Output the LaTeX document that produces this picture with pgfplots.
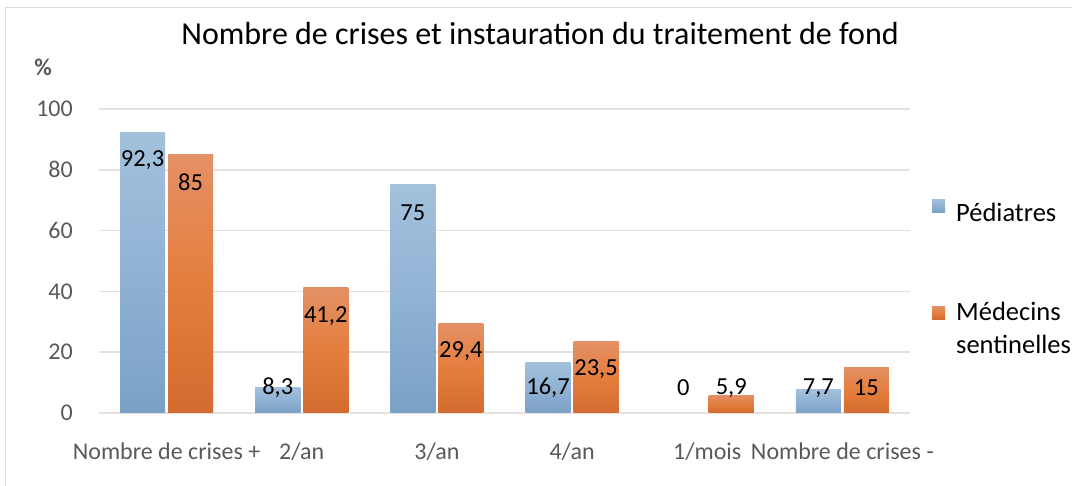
\documentclass[border=0pt]{standalone}
\usepackage{fontspec}
\setmainfont{Carlito}
\usepackage{pgfplots}
\pgfplotsset{compat=1.18}
\definecolor{bluetop}{HTML}{A3C1DC}
\definecolor{bluemid}{HTML}{90B2D4}
\definecolor{bluebot}{HTML}{7AA1C5}
\definecolor{orgtop}{HTML}{E49066}
\definecolor{orgmid}{HTML}{E47E3D}
\definecolor{orgbot}{HTML}{D46B2F}
\definecolor{gridc}{HTML}{E6E0DE}
\definecolor{tickc}{HTML}{595959}
\definecolor{framec}{HTML}{D9D9D9}
\pgfplotsset{
  bluebar/.style={draw=none, top color=bluetop, bottom color=bluebot, middle color=bluemid, bar shift=-24pt},
  orgbar/.style={draw=none, top color=orgtop, bottom color=orgbot, middle color=orgmid, bar shift=24pt},
  orglegend/.style={legend image code/.code={\path[##1, draw=none] (0pt,9pt) rectangle (13pt,22pt); \path (22pt,0pt);}},
}
\begin{document}
\begin{tikzpicture}[x=1pt,y=1pt]
\useasboundingbox (0,0) rectangle (1072,486);
\draw[framec, line width=1pt] (5,-20) -- (5,478) -- (1100,478);
\node[anchor=base, font=\fontsize{32}{38}\selectfont] at (540,441) {Nombre de crises et instauration du traitement de fond};
\node[anchor=base, font=\fontsize{24}{28}\selectfont\bfseries, text=tickc] at (43,410) {\%};
\begin{axis}[
  at={(99pt,73pt)}, anchor=south west,
  scale only axis, width=811pt, height=304pt,
  xmin=-0.5, xmax=5.5, ymin=0, ymax=100,
  clip=false,
  ybar, bar width=45pt,
  axis line style={draw=none},
  major tick length=0pt,
  ymajorgrids, grid style={gridc, line width=1.5pt},
  ytick={0,20,...,100},
  xtick={0,...,5},
  xticklabels={Nombre de crises +, 2/an, 3/an, 4/an, 1/mois, Nombre de crises -},
  tick label style={font=\fontsize{24}{28}\selectfont, text=tickc},
  yticklabel style={anchor=east, inner sep=0pt, xshift=-26pt},
  xticklabel style={anchor=base, inner sep=0pt, yshift=-47pt},
  /pgf/number format/.cd, use comma, assume math mode=true, 1000 sep={},
  /pgfplots/.cd,
  nodes near coords,
  visualization depends on={rawy \as \myy},
  every node near coord/.append style={anchor=center, font=\fontsize{24.5}{28}\selectfont, text=black, yshift={-min(28,\myy*3.04-25)}},
  legend style={draw=none, fill=none, at={(1.0271,0.704)}, anchor=north west,
    font=\fontsize{26.5}{33}\selectfont, row sep=75pt, cells={anchor=west, align=left}, inner sep=0pt},
  legend image code/.code={\path[#1, draw=none] (0pt,1pt) rectangle (13pt,14pt); \path (22pt,0pt);},
]
% Pédiatres
\addplot[bluebar] coordinates {(0,92.3)};
% Médecins sentinelles
\addplot[orgbar, orglegend] coordinates {(0,85)};
\addplot[bluebar, forget plot] coordinates {(1,8.3)};
\addplot[bluebar, forget plot] coordinates {(2,75)};
\addplot[bluebar, forget plot] coordinates {(3,16.7)};
\addplot[draw=none, fill=none, bar shift=-24pt, forget plot] coordinates {(4,0)};
\addplot[bluebar, forget plot] coordinates {(5,7.7)};
\addplot[orgbar, forget plot] coordinates {(1,41.2)};
\addplot[orgbar, forget plot] coordinates {(2,29.4)};
\addplot[orgbar, forget plot] coordinates {(3,23.5)};
\addplot[orgbar, forget plot] coordinates {(4,5.9)};
\addplot[orgbar, forget plot] coordinates {(5,15)};
\legend{Pédiatres, Médecins\\sentinelles}
\end{axis}
\end{tikzpicture}
\end{document}
